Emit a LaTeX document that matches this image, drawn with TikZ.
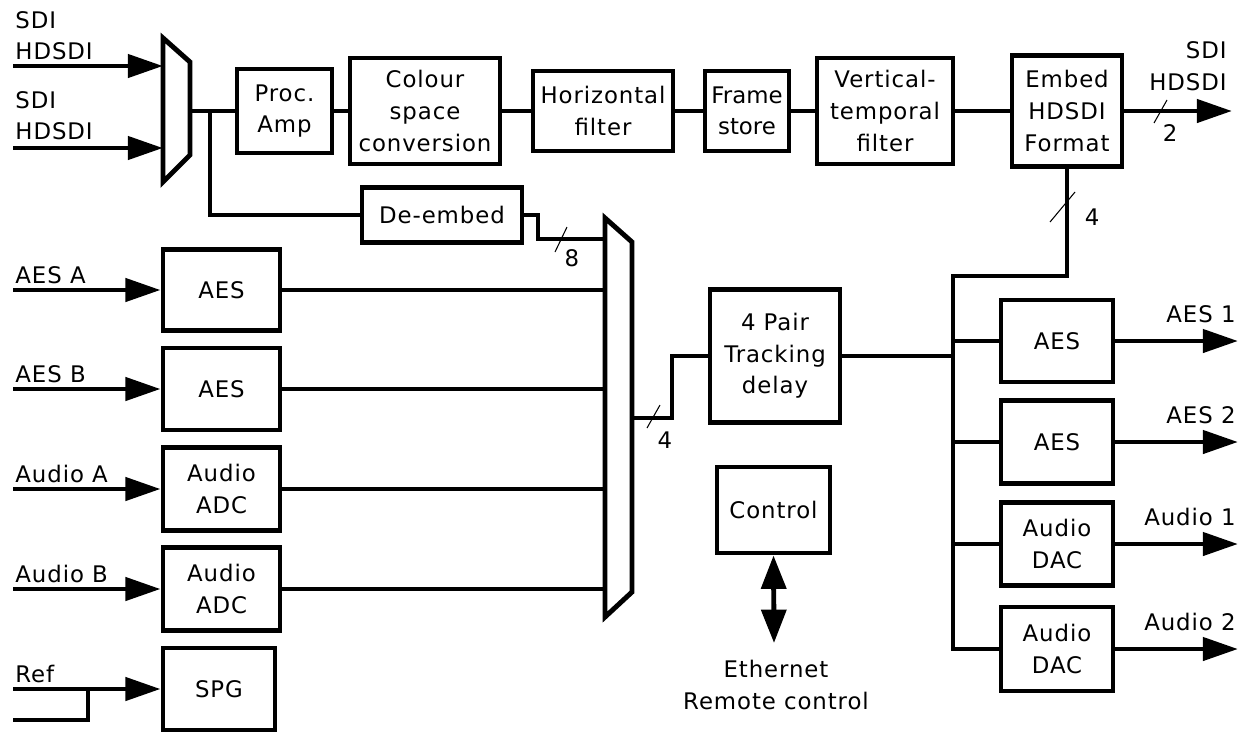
\documentclass[tikz,border=0pt]{standalone}
\usepackage{fontspec}
\setmainfont{DejaVu Sans}[LetterSpace=4]
\usetikzlibrary{arrows.meta, calc}

\begin{document}
\begin{tikzpicture}[x=0.02cm, y=-0.02cm, line width=2.8pt,
  font=\fontsize{13}{18}\selectfont,
  box/.style={draw, align=center, inner sep=0pt},
  dims/.style 2 args={minimum width=#1*0.02cm, minimum height=#2*0.02cm},
  tight/.style={font=\fontsize{13}{18}\selectfont\addfontfeature{LetterSpace=0}},
  sig/.style={-{Triangle[length=20pt, width=13pt]}},
  both/.style={{Triangle[length=19pt, width=14pt]}-{Triangle[length=19pt, width=14pt]}},
  lbl/.style={inner sep=0pt},
  busmark/.style={line width=0.6pt}]
\useasboundingbox (0,0) rectangle (1250,738);

\node[box, dims={95}{84}] (procamp) at (284.5,111) {Proc.\\Amp};
\node[box, dims={150}{106}] (colour) at (425,111) {Colour\\space\\conversion};
\node[box, dims={140}{80}] (hfilter) at (603,111) {Horizontal\\filter};
\node[box, tight, dims={84}{80}] (fstore) at (747,111) {Frame\\store};
\node[box, dims={136}{106}] (vtfilter) at (885,111) {Vertical-\\temporal\\filter};
\node[box, dims={110}{111}] (embed) at (1067,111) {Embed\\HDSDI\\Format};
\node[box, dims={160}{55}] (deembed) at (442,215) {De-embed};

\node[box, dims={117}{81}] (aesa) at (221.5,290) {AES};
\node[box, dims={117}{82}] (aesb) at (221.5,389) {AES};
\node[box, dims={117}{83}] (adca) at (221.5,489) {Audio\\ADC};
\node[box, dims={117}{83}] (adcb) at (221.5,589) {Audio\\ADC};
\node[box, dims={112}{82}] (spg) at (219,689) {SPG};

\node[box, dims={130}{133}] (delay) at (775,356) {4 Pair\\Tracking\\delay};
\node[box, dims={113}{86}] (control) at (773.5,510) {Control};

\node[box, dims={112}{82}] (aes1) at (1057,341) {AES};
\node[box, dims={112}{83}] (aes2) at (1057,442) {AES};
\node[box, dims={112}{83}] (dac1) at (1057,544) {Audio\\DAC};
\node[box, dims={112}{84}] (dac2) at (1057,649) {Audio\\DAC};

\coordinate (m1a) at (163,38);
\coordinate (m1b) at (190,62);
\coordinate (m1c) at (190,155);
\coordinate (m1d) at (163,182);
\coordinate (m1o) at (190,111);
\coordinate (tap) at (210,111);
\coordinate (m2a) at (605,218);
\coordinate (m2b) at (632,242);
\coordinate (m2c) at (632,592);
\coordinate (m2d) at (605,617);
\coordinate (m2o) at (632,418);
\coordinate (kink) at (672,418);
\coordinate (dk) at (538,239);
\coordinate (bus) at (953,276);
\coordinate (ina) at (13,0);
\coordinate (outx) at (1238,0);
\coordinate (sdiout) at (1232,111);
\coordinate (refb) at (13,720);
\coordinate (refj) at (88,689);
\coordinate (eth) at (774,643);

\draw (m1a) -- (m1b) -- (m1c) -- (m1d) -- cycle;
\draw (m2a) -- (m2b) -- (m2c) -- (m2d) -- cycle;

\draw[sig] (m1a |- 0,66) ++(-150,0) node[lbl, anchor=south west, align=left, yshift=2pt] (lsdia) {SDI\\HDSDI} -- (m1a |- 0,66);
\draw[sig] (m1a |- 0,148) ++(-150,0) node[lbl, anchor=south west, align=left, yshift=3pt] (lsdib) {SDI\\HDSDI} -- (m1a |- 0,148);

\draw (m1o) -- (procamp.west);
\draw (tap) |- (deembed.west);
\draw (procamp) -- (colour) -- (hfilter) -- (fstore) -- (vtfilter) -- (embed);
\draw[sig] (embed.east) -- (sdiout);
\node[lbl, anchor=south east, align=right] (lsdiout) at (1229,93) {SDI\\HDSDI};

\draw (deembed.east) -| (dk) -- (dk -| m2a);
\foreach \n/\t in {aesa/AES A, aesb/AES B, adca/Audio A, adcb/Audio B, spg/Ref}
  \draw[sig] (\n.west -| ina) node[lbl, anchor=south west, yshift=2pt] (l\n) {\t} -- (\n.west);
\draw (refb) -| (refj);
\foreach \n in {aesa, aesb, adca, adcb}
  \draw (\n.east) -- (\n.east -| m2a);

\draw (m2o) -- (kink) |- (delay.west);
\draw (delay.east) -- (delay.east -| bus);
\draw (embed.south) |- (bus) |- (dac2.west);
\foreach \n in {aes1, aes2, dac1}
  \draw (\n.west -| bus) -- (\n.west);
\foreach \n/\t in {aes1/AES 1, aes2/AES 2, dac1/Audio 1, dac2/Audio 2}
  \draw[sig] (\n.east) -- (\n.east -| outx) node[lbl, anchor=south east, yshift=9pt] (l\n) {\t};

\draw[both] (control.south) -- (eth);
\node[lbl, anchor=north, align=center] (lth) at (776,658) {Ethernet\\Remote control};

\draw[busmark] (555,252) -- (567,227);
\node (n8) at (572,258) {8};
\draw[busmark] (647,428) -- (660,405);
\node (n4a) at (665,440) {4};
\draw[busmark] (1154,123) -- (1167,100);
\node (n2) at (1170,133) {2};
\draw[busmark] (1050,222) -- (1075,192);
\node (n4b) at (1092,217) {4};
\end{tikzpicture}
\end{document}
